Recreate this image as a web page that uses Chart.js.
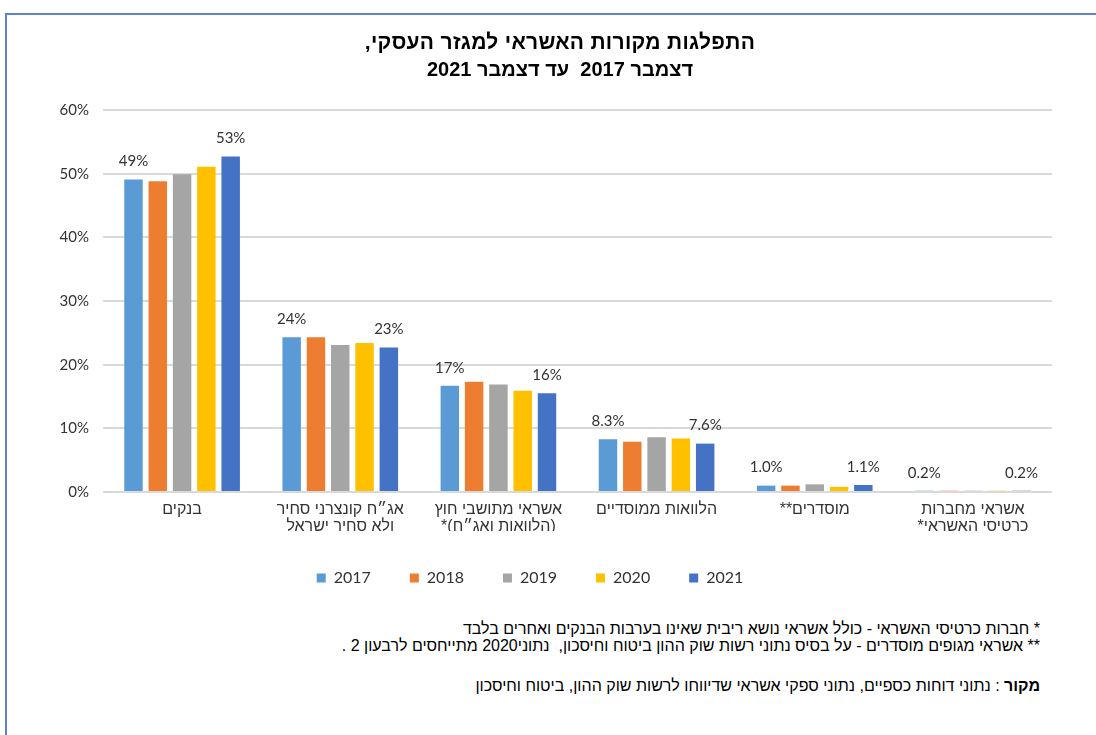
<!DOCTYPE html>
<html>
<head>
<meta charset="utf-8">
<script src="https://cdn.jsdelivr.net/npm/chart.js@4.4.0/dist/chart.umd.min.js"></script>
<style>
html,body{margin:0;padding:0;background:#fff;overflow:hidden;width:1096px;height:735px;}
#frame{position:absolute;left:5px;top:13px;width:1200px;height:800px;border:2px solid #5b84c4;box-sizing:border-box;}
#c{position:absolute;left:0;top:0;direction:rtl;}
.title{position:absolute;left:310px;width:500px;top:28px;text-align:center;font-weight:bold;font-size:20px;line-height:27px;font-family:'Liberation Sans',Arial,sans-serif;color:#000;direction:rtl;}
.title .l1{font-size:21px;letter-spacing:0.3px;}
.note{position:absolute;right:56px;font-size:16px;line-height:17px;font-family:'Liberation Sans',Arial,sans-serif;direction:rtl;white-space:nowrap;color:#000;}
</style>
</head>
<body>
<div id="frame"></div>
<canvas id="c" width="1096" height="610" dir="rtl"></canvas>
<div class="title"><span class="l1">התפלגות מקורות האשראי למגזר העסקי,</span><br>דצמבר 2017&nbsp; עד דצמבר 2021</div>
<div class="note" style="top:620px">* חברות כרטיסי האשראי - כולל אשראי נושא ריבית שאינו בערבות הבנקים ואחרים בלבד</div>
<div class="note" style="top:637px">** אשראי מגופים מוסדרים - על בסיס נתוני רשות שוק ההון ביטוח וחיסכון,&nbsp; נתוני2020 מתייחסים לרבעון 2 .</div>
<div class="note" style="top:677px"><b>מקור</b> : נתוני דוחות כספיים, נתוני ספקי אשראי שדיווחו לרשות שוק ההון, ביטוח וחיסכון</div>
<script>
const categories = [
  'בנקים',
  ['אג״ח קונצרני סחיר', 'ולא סחיר ישראל'],
  ['אשראי מתושבי חוץ', '(הלוואות ואג״ח)*'],
  'הלוואות ממוסדיים',
  'מוסדרים**',
  ['אשראי מחברות', 'כרטיסי האשראי*']
];
const years = ['2017', '2018', '2019', '2020', '2021'];
const v2017 = [49.1, 24.3, 16.7, 8.3, 1.0, 0.2];
const v2018 = [48.8, 24.3, 17.3, 7.9, 1.0, 0.2];
const v2019 = [49.9, 23.1, 16.9, 8.6, 1.2, 0.2];
const v2020 = [51.1, 23.4, 15.9, 8.4, 0.8, 0.2];
const v2021 = [52.7, 22.7, 15.5, 7.6, 1.1, 0.2];
const yTickValues = [0, 10, 20, 30, 40, 50, 60];
const labeledYears = ['2017', '2021'];

const seriesValues = [v2017, v2018, v2019, v2020, v2021];
const colors = ['#5b9bd5', '#ed7d31', '#a5a5a5', '#ffc000', '#4472c4'];

function fmt(v) {
  return v >= 10 ? Math.round(v) + '%' : v.toFixed(1) + '%';
}

const valueLabels = {
  id: 'valueLabels',
  afterDatasetsDraw(chart) {
    const ctx = chart.ctx;
    ctx.save();
    ctx.font = "15px Lato, 'Liberation Sans', sans-serif";
    ctx.fillStyle = '#333';
    ctx.textAlign = 'center';
    ctx.textBaseline = 'middle';
    chart.data.datasets.forEach((ds, di) => {
      if (!labeledYears.includes(ds.label)) return;
      const meta = chart.getDatasetMeta(di);
      meta.data.forEach((el, i) => {
        ctx.fillText(fmt(ds.data[i]), el.x, el.y - 18);
      });
    });
    ctx.restore();
  }
};

new Chart(document.getElementById('c'), {
  type: 'bar',
  data: {
    labels: categories,
    datasets: years.map((y, i) => ({
      label: y,
      data: seriesValues[i],
      backgroundColor: colors[i],
      borderWidth: 0,
      categoryPercentage: 0.768,
      barPercentage: 0.76
    }))
  },
  options: {
    responsive: false,
    animation: false,
    devicePixelRatio: 1,
    layout: { padding: { left: 8, right: 44, top: 110, bottom: 14 } },
    plugins: {
      title: { display: false },
      tooltip: { enabled: false },
      legend: {
        position: 'bottom',
        labels: {
          boxWidth: 9,
          boxHeight: 9,
          padding: 39,
          color: '#333',
          font: { size: 16, family: "Lato, 'Liberation Sans', sans-serif" }
        }
      }
    },
    scales: {
      x: {
        afterFit(s) { s.height = 39; },
        grid: { display: false, drawTicks: false },
        border: { display: false },
        ticks: {
          color: '#333',
          padding: 9,
          maxRotation: 0,
          autoSkip: false,
          font: { size: 16, family: "'Liberation Sans', Arial, sans-serif", lineHeight: 1.07 }
        }
      },
      y: {
        min: 0,
        max: 60,
        afterFit(s) { s.width = 95; },
        afterBuildTicks(s) { s.ticks = yTickValues.map(v => ({ value: v })); },
        grid: { color: '#d9d9d9', lineWidth: 2, drawTicks: false },
        border: { display: false },
        ticks: {
          color: '#333',
          padding: 14,
          font: { size: 15, family: "Lato, 'Liberation Sans', sans-serif" },
          callback: v => v + '%'
        }
      }
    }
  },
  plugins: [valueLabels]
});
</script>
</body>
</html>
